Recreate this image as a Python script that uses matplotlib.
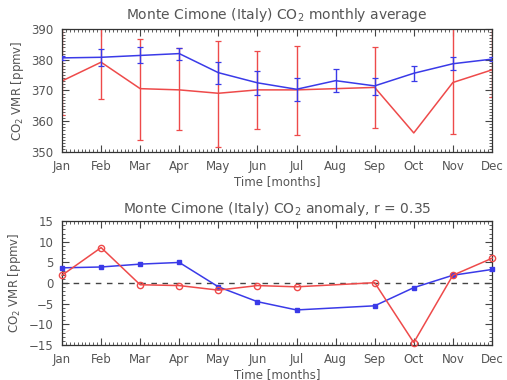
import numpy as np
import matplotlib
matplotlib.use('Agg')
import matplotlib.pyplot as plt
from matplotlib.ticker import MultipleLocator

# monthly data, None = no value for that month
months = ['Jan', 'Feb', 'Mar', 'Apr', 'May', 'Jun', 'Jul', 'Aug', 'Sep', 'Oct', 'Nov', 'Dec']

blue_avg = [380.6, 380.8, 381.4, 382.0, 375.8, 372.5, 370.4, 373.2, 371.5, 375.6, 378.7, 380.2]
blue_lo = [379.8, 378.0, 378.9, 379.9, 372.1, 368.5, 366.6, 369.5, 368.5, 373.2, 376.7, 379.6]
blue_hi = [381.3, 383.5, 384.0, 383.8, 379.4, 376.2, 374.0, 376.9, 374.2, 378.0, 380.8, 380.8]

red_avg = [373.1, 379.2, 370.6, 370.2, 369.1, 370.2, 370.2, None, 371.0, 356.2, 372.6, 376.7]
red_lo = [362.0, 367.3, 354.0, 357.1, 351.7, 357.5, 355.5, None, 357.8, np.nan, 355.7, 368.0]
red_hi = [392.0, 392.0, 386.7, 383.8, 386.2, 383.0, 384.6, None, 384.0, np.nan, 392.0, 392.0]

blue_anom = [3.7, 3.9, 4.6, 5.0, -0.9, -4.5, -6.5, None, -5.5, -1.1, 1.9, 3.3]
red_anom = [1.9, 8.6, -0.4, -0.6, -1.7, -0.6, -0.9, None, 0.1, -14.4, 1.9, 6.0]

BLUE = '#3a3ae8'
RED = '#ee4a4a'
GREY = '#555555'

plt.rcParams['font.family'] = 'DejaVu Sans'
plt.rcParams['text.color'] = GREY
plt.rcParams['axes.labelcolor'] = GREY
plt.rcParams['xtick.color'] = GREY
plt.rcParams['ytick.color'] = GREY


def valid(vals, *others):
    idx = [i for i, v in enumerate(vals) if v is not None]
    x = np.array(idx, dtype=float)
    out = [np.array([vals[i] for i in idx], dtype=float)]
    for o in others:
        out.append(np.array([o[i] for i in idx], dtype=float))
    return x, out


def style_axes(ax, ymajor):
    ax.set_xlim(0, 11)
    ax.set_xticks(range(12))
    ax.set_xticklabels(months)
    ax.xaxis.set_minor_locator(MultipleLocator(0.1))
    ax.yaxis.set_major_locator(MultipleLocator(ymajor))
    ax.yaxis.set_minor_locator(MultipleLocator(1))
    ax.tick_params(which='both', direction='in', top=True, right=True,
                   labelsize=8.5, pad=6)
    ax.tick_params(which='major', length=5, width=0.8, color='#444444')
    ax.tick_params(which='minor', length=2.5, width=0.6, color='#444444')
    for s in ax.spines.values():
        s.set_color('#333333')
        s.set_linewidth(0.9)
    ax.set_xlabel('Time [months]', fontsize=8.5, labelpad=1)
    ax.set_ylabel('CO$_2$ VMR [ppmv]', fontsize=8.5, labelpad=4)


fig = plt.figure(figsize=(5.07, 3.80), dpi=100)
ax1 = fig.add_axes([0.1223, 0.600, 0.848, 0.3237])
ax2 = fig.add_axes([0.1223, 0.092, 0.848, 0.326])

# top: monthly averages with spread bars
x, (v, lo, hi) = valid(red_avg, red_lo, red_hi)
ax1.plot(x, v, color=RED, lw=1.1, zorder=2)
ok = ~np.isnan(lo)
ax1.errorbar(x[ok], v[ok], yerr=[v[ok] - lo[ok], hi[ok] - v[ok]], fmt='none',
             ecolor=RED, elinewidth=1.0, capsize=2, capthick=0.9, zorder=2)
x, (v, lo, hi) = valid(blue_avg, blue_lo, blue_hi)
ax1.plot(x, v, color=BLUE, lw=1.1, zorder=3)
ax1.errorbar(x, v, yerr=[v - lo, hi - v], fmt='none', ecolor=BLUE,
             elinewidth=1.0, capsize=2, capthick=0.9, zorder=3)
ax1.set_ylim(350, 390)
style_axes(ax1, 10)
ax1.set_title('Monte Cimone (Italy) CO$_2$ monthly average', fontsize=10, pad=7)

# bottom: anomalies
ax2.axhline(0, color='#444444', lw=1.0, ls=(0, (4, 4)), zorder=1)
x, (v,) = valid(blue_anom)
ax2.plot(x, v, color=BLUE, lw=1.1, marker='s', ms=3.5, mfc=BLUE, mec=BLUE,
         zorder=3, clip_on=False)
x, (v,) = valid(red_anom)
ax2.plot(x, v, color=RED, lw=1.1, marker='o', ms=4.5, mfc='none', mec=RED,
         zorder=3, clip_on=False)
ax2.set_ylim(-15, 15)
style_axes(ax2, 5)
ax2.set_title('Monte Cimone (Italy) CO$_2$ anomaly, r = 0.35', fontsize=10, pad=6)

fig.savefig('out.png', dpi=100)
